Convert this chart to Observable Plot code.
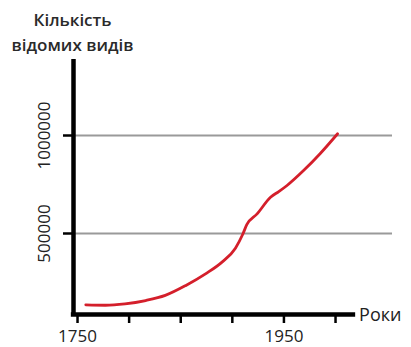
<!DOCTYPE html>
<html>
<head>
<meta charset="utf-8">
<script src="https://cdn.jsdelivr.net/npm/d3@7"></script>
<script src="https://cdn.jsdelivr.net/npm/@observablehq/plot@0.6"></script>
<style>
  html, body { margin: 0; padding: 0; background: #fff; }
  #chart svg { display: block; }
</style>
</head>
<body>
<div id="chart"></div>
<script>
// Data
const years  = [1758, 1777, 1796, 1816, 1835, 1855, 1874, 1890, 1903, 1910, 1914, 1924, 1937, 1945, 1953, 1969, 1985, 2002];
const counts = [136000, 134000, 141000, 158000, 184000, 235000, 294000, 354000, 425000, 495000, 545000, 600000, 685000, 714000, 745000, 821000, 907000, 1009000];

const xTicks = [1750, 1800, 1850, 1900, 1950, 2000];
const xTickLabels = [1750, 1950];
const yTicks = [500000, 1000000];
const yTickLabels = ["500000", "1000000"];

const titleText = "Кількість\nвідомих видів";
const xLabel = "Роки";

const xDomain = [1746.1, 2055.2];
const yDomain = [86700, 1387800];
const xAxisStart = 1744;
const xAxisEnd = 2019.5;

const data = years.map((y, i) => ({year: y, count: counts[i]}));
const font = "'Open Sans', 'Noto Sans', sans-serif";

const chart = Plot.plot({
  width: 411,
  height: 347,
  marginLeft: 73,
  marginRight: 19,
  marginTop: 59,
  marginBottom: 33,
  style: {fontFamily: font, color: "#222", background: "#fff"},
  x: {domain: xDomain, axis: null},
  y: {domain: yDomain, axis: null},
  marks: [
    Plot.ruleY(yTicks, {stroke: "#9a9a9a", strokeWidth: 2}),
    Plot.line(data, {x: "year", y: "count", stroke: "#d41f2b", strokeWidth: 2.8, curve: "monotone-x"}),
    Plot.ruleX([xDomain[0]], {stroke: "#000", strokeWidth: 4.5}),
    Plot.ruleY([yDomain[0]], {x1: xAxisStart, x2: xAxisEnd, stroke: "#000", strokeWidth: 4.5}),
    Plot.axisX({
      ticks: xTicks, tickSize: 9, tickPadding: 6, strokeWidth: 2.5, stroke: "#000",
      tickFormat: d => xTickLabels.includes(d) ? String(d) : "",
      fontSize: 17, fill: "#222", label: null
    }),
    Plot.axisY({
      ticks: yTicks, tickSize: 10, strokeWidth: 2.5, stroke: "#000",
      tickFormat: () => "", label: null
    }),
    Plot.text(yTicks, {
      y: d => d, text: (d, i) => yTickLabels[i], frameAnchor: "left",
      dx: -29, rotate: -90, textAnchor: "middle", lineAnchor: "middle",
      fontSize: 17, fill: "#222"
    }),
    Plot.text([titleText], {
      text: d => d, frameAnchor: "top-left", dx: -1, dy: -9,
      textAnchor: "middle", lineAnchor: "bottom", lineHeight: 1.45,
      fontSize: 17, fontWeight: 600, fill: "#2a2a2a"
    }),
    Plot.text([xLabel], {
      text: d => d, frameAnchor: "bottom-right", dx: 9, dy: 1,
      textAnchor: "end", lineAnchor: "middle", fontSize: 18, fill: "#222"
    })
  ]
});
document.getElementById("chart").appendChild(chart);
</script>
</body>
</html>
